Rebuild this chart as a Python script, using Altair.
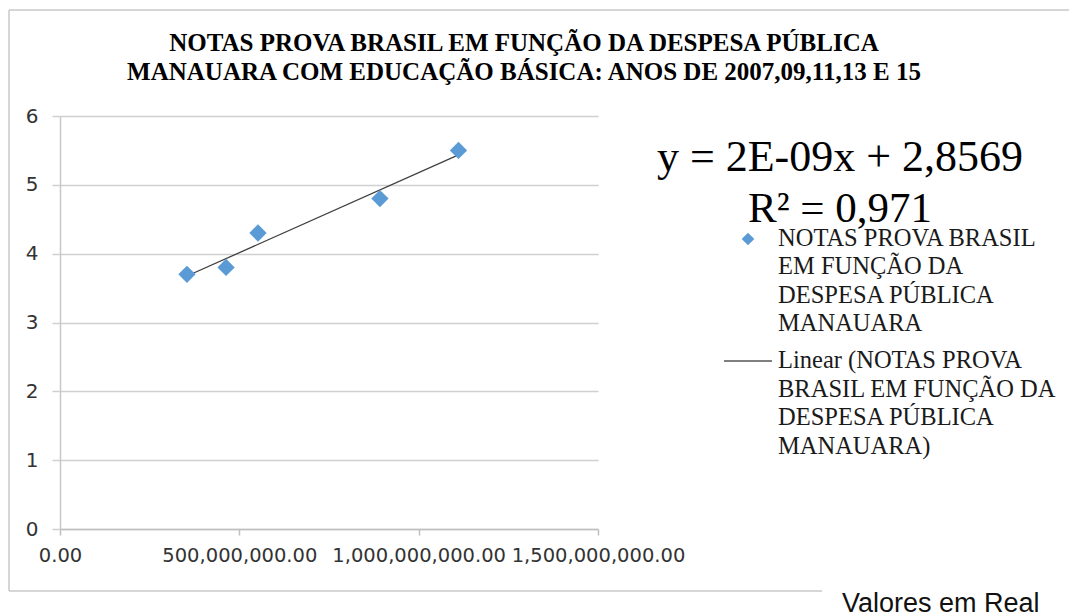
import altair as alt
import pandas as pd

# ---- data ----
despesa = [354e6, 463e6, 552e6, 892e6, 1111e6]
notas = [3.7, 3.8, 4.3, 4.8, 5.5]

x_ticks = [0, 5e8, 1e9, 1.5e9]
y_ticks = [0, 1, 2, 3, 4, 5, 6]

title_lines = [
    "NOTAS PROVA BRASIL EM FUNÇÃO DA DESPESA PÚBLICA",
    "MANAUARA COM EDUCAÇÃO BÁSICA: ANOS DE 2007,09,11,13 E 15",
]
equation_lines = ["y = 2E-09x + 2,8569", "R² = 0,971"]
legend_points = ["NOTAS PROVA BRASIL", "EM FUNÇÃO DA", "DESPESA PÚBLICA", "MANAUARA"]
legend_trend = ["Linear (NOTAS PROVA", "BRASIL EM FUNÇÃO DA", "DESPESA PÚBLICA", "MANAUARA)"]
unit_label = "Valores em Real"
source_label = "Fonte: Elaboração do autor"

df = pd.DataFrame({"despesa": despesa, "nota": notas})

# plot area geometry (pixels)
W, H = 538, 413
PL, PT = 60, 116
TOTAL_W, TOTAL_H = 1069, 616

POINT_COLOR = "#5B9BD5"
SERIF = "Liberation Serif"


def txt(s, x, y, size, font=SERIF, weight="normal", align="left", color="#000000"):
    return alt.Chart(pd.DataFrame({"t": [s]})).mark_text(
        font=font, fontSize=size, fontWeight=weight, align=align,
        baseline="alphabetic", color=color,
    ).encode(x=alt.value(x - PL), y=alt.value(y - PT), text="t:N")


def rule(x1, y1, x2, y2, color="#c8c8c8", width=1.5):
    return alt.Chart(pd.DataFrame({"a": [0]})).mark_rule(
        color=color, strokeWidth=width
    ).encode(x=alt.value(x1 - PL), x2=alt.value(x2 - PL),
             y=alt.value(y1 - PT), y2=alt.value(y2 - PT))


xs = alt.Scale(domain=[0, 1.5e9], nice=False, zero=True)
ys = alt.Scale(domain=[0, 6], nice=False)

points = alt.Chart(df).mark_point(
    shape="diamond", filled=True, size=300, color=POINT_COLOR, opacity=1
).encode(
    x=alt.X("despesa:Q", scale=xs, axis=alt.Axis(
        values=x_ticks, format=",.2f", title=None, grid=False,
        labelFont="DejaVu Sans", labelFontSize=19.5, labelColor="#333333",
        labelPadding=11, labelFlush=False, labelOverlap=False,
        tickSize=6, tickColor="#bfbfbf", tickWidth=1.5,
        domainColor="#bfbfbf", domainWidth=1.5)),
    y=alt.Y("nota:Q", scale=ys, axis=alt.Axis(
        values=y_ticks, format="d", title=None, grid=True,
        gridColor="#d0d0d0", gridWidth=1.5,
        labelFont="DejaVu Sans", labelFontSize=20, labelColor="#333333",
        labelPadding=14, labelFlush=False,
        tickSize=8, tickColor="#d0d0d0", tickWidth=1.5,
        domainColor="#c8c8c8", domainWidth=1.5)),
)

trend = alt.Chart(df).transform_regression(
    "despesa", "nota", method="linear"
).mark_line(color="#404040", strokeWidth=1.3).encode(
    x=alt.X("despesa:Q", scale=xs),
    y=alt.Y("nota:Q", scale=ys),
)

layers = [
    # chart frame
    rule(9, 10, TOTAL_W, 10),
    rule(9, 10, 9, 591),
    rule(9, 591, 822, 591),
    trend,
    points,
]

# title
layers.append(txt(title_lines[0], 524, 51, 25, weight="bold", align="center"))
layers.append(txt(title_lines[1], 524, 80, 25, weight="bold", align="center"))

# trendline equation
layers.append(txt(equation_lines[0], 840, 171, 44, align="center"))
layers.append(txt(equation_lines[1], 840, 222, 43, align="center"))

# legend
legend_diamond = alt.Chart(pd.DataFrame({"a": [0]})).mark_point(
    shape="diamond", filled=True, size=160, color=POINT_COLOR, opacity=1
).encode(x=alt.value(748 - PL), y=alt.value(239 - PT))
layers.append(legend_diamond)
layers.append(rule(724, 361, 772, 361, color="#555555", width=1.3))

for i, s in enumerate(legend_points):
    layers.append(txt(s, 778, 246 + i * 28.3, 24.5, color="#1a1a1a"))
for i, s in enumerate(legend_trend):
    layers.append(txt(s, 778, 368 + i * 28.7, 24.5, color="#1a1a1a"))

# unit note and clipped source line
layers.append(txt(unit_label, 842, 612, 27, font="Liberation Sans", color="#111111"))
layers.append(txt(source_label, 10, 632, 24, color="#333333"))

chart = alt.layer(*layers).properties(
    width=W, height=H,
    autosize=alt.AutoSizeParams(type="none"),
    padding={"left": PL, "top": PT, "right": TOTAL_W - PL - W, "bottom": TOTAL_H - PT - H},
    background="white",
).configure_view(stroke=None)

chart.save("out.html", embed_options={"renderer": "svg", "actions": False})
